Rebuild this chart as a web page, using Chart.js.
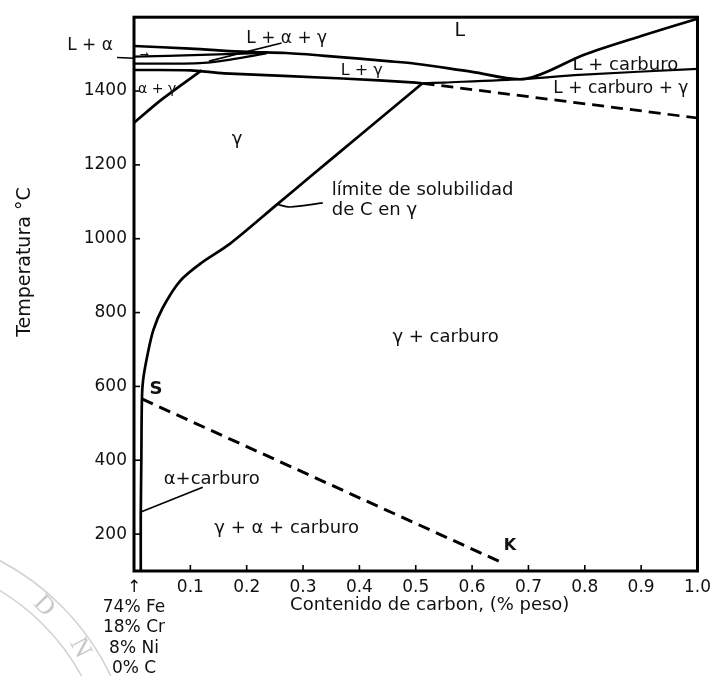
<!DOCTYPE html>
<html>
<head>
<meta charset="utf-8">
<script src="https://cdn.jsdelivr.net/npm/chart.js@4/dist/chart.umd.min.js"></script>
<style>
html,body{margin:0;padding:0;background:#fff;}
#wrap{width:717px;height:676px;position:relative;}
</style>
</head>
<body>
<div id="wrap"><canvas id="c" width="717" height="676"></canvas></div>
<script>
// ---------------- DATA (x: % C by weight, y: temperature °C) ----------------
const xTickValues = [0, 0.1, 0.2, 0.3, 0.4, 0.5, 0.6, 0.7, 0.8, 0.9, 1.0];
const xTickLabels = [["↑", "74% Fe", "18% Cr", "8% Ni", "0% C"], "0.1", "0.2", "0.3", "0.4", "0.5", "0.6", "0.7", "0.8", "0.9", "1.0"];
const yTickValues = [200, 400, 600, 800, 1000, 1200, 1400];

// liquidus (upper boundary of L)
const liquidus = [[0,1522],[0.1,1515],[0.2,1506],[0.27,1503],[0.35,1494],[0.45,1481],[0.5,1474],[0.6,1452],[0.695,1433],[0.8,1499],[0.9,1549],[1.0,1596]];
// lower boundary of L + alpha
const alphaUpper = [[0,1493],[0.12,1498],[0.235,1503]];
// lower boundary of L + alpha + gamma
const alphaLower = [[0,1474],[0.13,1477],[0.235,1502]];
// lower boundary of L + gamma (solidus)
const solidus = [[0,1457],[0.1,1456],[0.16,1448],[0.37,1434],[0.5,1423],[0.512,1421]];
// boundary L + carburo / L + carburo + gamma
const carbideLiquid = [[0.512,1421],[0.55,1423],[0.695,1433],[0.79,1444],[1.0,1460]];
// dashed lower boundary of L + carburo + gamma
const carbideSolidus = [[0.512,1421],[1.0,1327]];
// alpha + gamma / gamma boundary
const alphaGamma = [[0,1314],[0.05,1378],[0.12,1456]];
// solubility limit of C in gamma
const solubility = [[0.012,100],[0.012,250],[0.013,400],[0.014,561],[0.016,615],[0.023,678],[0.034,751],[0.051,813],[0.082,886],[0.12,935],[0.17,986],[0.254,1093],[0.312,1167],[0.4,1279],[0.512,1421]];
// dashed line S - K
const lineSK = [[0.014,566],[0.654,122]];
// label leader lines
const leaderLA = [[-0.073,1492],[-0.03,1491],[0,1489]];
const leaderLAG = [[0.262,1530],[0.133,1481]];
const leaderLimite = [[0.254,1093],[0.277,1086],[0.335,1097]];
const leaderAC = [[0.011,259],[0.122,327]];

// region labels [text, x, y, size, align, weight]
const regionLabels = [
  ["L", 0.578, 1562, 19, "center", "normal"],
  ["L + α + γ", 0.271, 1543, 17, "center", "normal"],
  ["L + α", -0.078, 1522, 17, "center", "normal"],
  ["→", 0.018, 1496, 11, "center", "normal"],
  ["α + γ", 0.041, 1405, 14, "center", "normal"],
  ["L + γ", 0.404, 1454, 16, "center", "normal"],
  ["L + carburo", 0.872, 1470, 18, "center", "normal"],
  ["L + carburo + γ", 0.864, 1408, 17, "center", "normal"],
  ["γ", 0.183, 1270, 18, "center", "normal"],
  ["límite de solubilidad", 0.351, 1132, 18, "left", "normal"],
  ["de C en γ", 0.351, 1078, 18, "left", "normal"],
  ["γ + carburo", 0.553, 732, 18, "center", "normal"],
  ["S", 0.039, 592, 18, "center", "bold"],
  ["α+carburo", 0.138, 349, 18, "center", "normal"],
  ["γ + α + carburo", 0.271, 216, 18, "center", "normal"],
  ["K", 0.667, 168, 16, "center", "bold"]
];
const xTitle = "Contenido de carbon, (% peso)";
const yTitle = "Temperatura °C";

// ---------------- CHART ----------------
const FONT = '"DejaVu Sans", "Liberation Sans", Arial, sans-serif';
const INK = '#111';
const toXY = arr => arr.map(p => ({x: p[0], y: p[1]}));

function line(data, opts) {
  return Object.assign({
    data: toXY(data), showLine: true, fill: false, pointRadius: 0,
    borderColor: '#000', borderWidth: 2.7, tension: 0.3, clip: false
  }, opts || {});
}

const datasets = [
  line(liquidus),
  line(alphaUpper, {borderWidth: 2.2}),
  line(alphaLower, {borderWidth: 2.2}),
  line(solidus),
  line(carbideLiquid, {borderWidth: 2.2}),
  line(carbideSolidus, {borderDash: [12, 7], borderWidth: 2.7, tension: 0}),
  line(alphaGamma),
  line(solubility, {tension: 0.3}),
  line(lineSK, {borderDash: [12, 7], borderWidth: 3, tension: 0}),
  line(leaderLA, {borderWidth: 1.6, tension: 0}),
  line(leaderLAG, {borderWidth: 1.6, tension: 0}),
  line(leaderLimite, {borderWidth: 1.6, tension: 0.3}),
  line(leaderAC, {borderWidth: 1.6, tension: 0})
];

const decorPlugin = {
  id: 'decor',
  beforeDraw(chart) {
    const ctx = chart.ctx;
    ctx.save();
    ctx.fillStyle = '#fff';
    ctx.fillRect(0, 0, chart.width, chart.height);
    // faint seal watermark in the lower-left corner
    ctx.strokeStyle = '#d2d2d2';
    ctx.lineWidth = 1.6;
    ctx.beginPath(); ctx.arc(-117, 784, 252, -Math.PI / 2, 0); ctx.stroke();
    ctx.beginPath(); ctx.arc(-117, 784, 226, -Math.PI / 2, 0); ctx.stroke();
    ctx.fillStyle = '#c8c8c8';
    ctx.font = '26px "Liberation Serif", serif';
    ctx.textAlign = 'center'; ctx.textBaseline = 'middle';
    [["D", 44, 606, 0.8], ["N", 80, 648, 1.1]].forEach(l => {
      ctx.save(); ctx.translate(l[1], l[2]); ctx.rotate(l[3]); ctx.fillText(l[0], 0, 0); ctx.restore();
    });
    ctx.restore();
  },
  afterDraw(chart) {
    const ctx = chart.ctx, a = chart.chartArea;
    const xs = chart.scales.x, ys = chart.scales.y;
    ctx.save();
    // frame
    ctx.strokeStyle = '#000';
    ctx.lineWidth = 3;
    ctx.strokeRect(a.left, a.top, a.right - a.left, a.bottom - a.top);
    // inward tick marks
    ctx.lineWidth = 1.6;
    xs.ticks.forEach(t => {
      if (t.value <= xs.min || t.value >= xs.max) return;
      const px = xs.getPixelForValue(t.value);
      ctx.beginPath(); ctx.moveTo(px, a.bottom); ctx.lineTo(px, a.bottom - 6); ctx.stroke();
    });
    ys.ticks.forEach(t => {
      const py = ys.getPixelForValue(t.value);
      ctx.beginPath(); ctx.moveTo(a.left, py); ctx.lineTo(a.left + 6, py); ctx.stroke();
    });
    // region labels
    ctx.fillStyle = INK;
    ctx.textBaseline = 'middle';
    regionLabels.forEach(l => {
      ctx.font = l[5] + ' ' + l[3] + 'px ' + FONT;
      ctx.textAlign = l[4];
      ctx.fillText(l[0], xs.getPixelForValue(l[1]), ys.getPixelForValue(l[2]));
    });
    // axis titles
    ctx.font = '18px ' + FONT;
    ctx.textAlign = 'center';
    ctx.fillText(xTitle, (a.left + a.right) / 2 + 14, a.bottom + 34);
    ctx.save();
    ctx.translate(25, (a.top + a.bottom) / 2 - 32);
    ctx.rotate(-Math.PI / 2);
    ctx.font = '19px ' + FONT;
    ctx.fillText(yTitle, 0, 0);
    ctx.restore();
    ctx.restore();
  }
};

new Chart(document.getElementById('c'), {
  type: 'scatter',
  data: {datasets},
  options: {
    responsive: false,
    animation: false,
    events: [],
    layout: {padding: {top: 16, right: 17, left: 0, bottom: 0}},
    plugins: {legend: {display: false}, tooltip: {enabled: false}, title: {display: false}},
    scales: {
      x: {
        type: 'linear', min: 0, max: 1.0, offset: false,
        afterBuildTicks: s => { s.ticks = xTickValues.map(v => ({value: v})); },
        afterFit: s => { s.height = 105; },
        grid: {display: false, drawTicks: false},
        border: {display: false},
        ticks: {
          autoSkip: false, maxRotation: 0, padding: 6, color: INK,
          font: {family: FONT, size: 17, lineHeight: 1.2},
          callback: (v, i) => xTickLabels[i]
        }
      },
      y: {
        type: 'linear', min: 100, max: 1600,
        afterBuildTicks: s => { s.ticks = yTickValues.map(v => ({value: v})); },
        afterFit: s => { s.width = 134; },
        grid: {display: false, drawTicks: false},
        border: {display: false},
        ticks: {
          autoSkip: false, padding: 7, color: INK,
          font: {family: FONT, size: 17},
          callback: v => String(v)
        }
      }
    }
  },
  plugins: [decorPlugin]
});
</script>
</body>
</html>
